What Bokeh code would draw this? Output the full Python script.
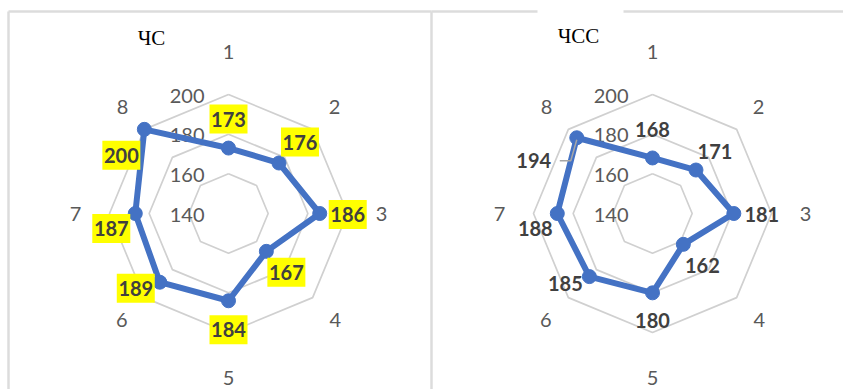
import math
from bokeh.plotting import figure
from bokeh.models import Range1d
from bokeh.core.properties import value
from bokeh.embed import file_html
from bokeh.resources import INLINE

# ---------------- data ----------------
categories = ["1", "2", "3", "4", "5", "6", "7", "8"]
chs_values = [173, 176, 186, 167, 184, 189, 187, 200]
chss_values = [168, 171, 181, 162, 180, 185, 188, 194]
tick_values = [140, 160, 180, 200]
titles = ["ЧС", "ЧСС"]

# ---------------- layout / style ----------------
W, H = 843, 389
RADIUS = 119
VMIN, VMAX = 140, 200
BLUE = "#4472C4"
GRID = "#D0D0D0"
TXT = "#595959"
LBL = "#404040"
FONT = "Lato"

# label offsets (px) relative to each point
chs_dx = [0, 21, 28, 20, 0, -24, -24, -23]
chs_dy = [-29, -21, 1, 21, 29, 6, 15, 26]
chss_dx = [0, 19, 28, 19, 0, -24, -22, -43]
chss_dy = [-28, -19, 1, 21, 28, 7, 15, 23]
cat_r = [162, 150, 153, 151, 164, 151, 153, 150]

p = figure(width=W, height=H, x_range=Range1d(0, W), y_range=Range1d(H, 0),
           x_axis_type=None, y_axis_type=None, toolbar_location=None,
           output_backend="svg", min_border=0, outline_line_color=None,
           background_fill_color="white", border_fill_color="white")

# chart borders
BORDER = "#DCDCDC"
p.segment(x0=[8, 8, 431, 431], y0=[11, 11, 11, 11], x1=[8, 431, 431, W + 5], y1=[H + 5, 11, H + 5, 11],
          line_color=BORDER, line_width=2.5)
# white box behind the right chart title (breaks the top border)
p.quad(left=[537], right=[623], top=[8], bottom=[30], fill_color="white", line_color=None)


def r_of(v):
    return (v - VMIN) / (VMAX - VMIN) * RADIUS


def pt(cx, cy, k, r):
    th = math.radians(45 * k)
    return cx + r * math.sin(th), cy - r * math.cos(th)


def radar(cx, cy, vals, dx, dy, highlight, leader_idx=None):
    n = len(categories)
    # rings
    for t in tick_values[1:]:
        xs, ys = [], []
        for k in range(n + 1):
            x, y = pt(cx, cy, k % n, r_of(t))
            xs.append(x)
            ys.append(y)
        p.line(xs, ys, line_color=GRID, line_width=1.7)
    # tick labels
    p.text(x=[cx - 24] * len(tick_values), y=[cy - r_of(t) + 1 for t in tick_values],
           text=[str(t) for t in tick_values], text_align="right", text_baseline="middle",
           text_font=value(FONT), text_font_size="20px", text_color=TXT)
    # category labels
    cxs, cys = [], []
    for k in range(n):
        x, y = pt(cx, cy, k, cat_r[k])
        cxs.append(x)
        cys.append(y)
    p.text(x=cxs, y=cys, text=categories, text_align="center", text_baseline="middle",
           text_font=value(FONT), text_font_size="20px", text_color=TXT)
    # series
    px, py = [], []
    for k, v in enumerate(vals):
        x, y = pt(cx, cy, k, r_of(v))
        px.append(x)
        py.append(y)
    p.line(px + [px[0]], py + [py[0]], line_color=BLUE, line_width=6, line_join="round")
    p.scatter(px, py, size=14, marker="circle", fill_color=BLUE, line_color=BLUE)
    # data labels
    lx = [px[k] + dx[k] for k in range(n)]
    ly = [py[k] + dy[k] for k in range(n)]
    if leader_idx is not None:
        k = leader_idx
        p.line([lx[k] + 26, lx[k] + 37, px[k]], [ly[k], ly[k], py[k] + 2],
               line_color="#A6A6A6", line_width=1.5)
    if highlight:
        p.rect(x=lx, y=ly, width=38, height=29, width_units="screen", height_units="screen",
               fill_color="#FFFF00", line_color=None)
    p.text(x=lx, y=ly, text=[str(v) for v in vals], text_align="center", text_baseline="middle",
           text_font=value(FONT), text_font_size="20px", text_font_style="bold", text_color=LBL)


radar(228, 213, chs_values, chs_dx, chs_dy, True)
radar(652, 213, chss_values, chss_dx, chss_dy, False, leader_idx=7)

p.text(x=[151, 578], y=[37, 35], text=titles, text_align="center", text_baseline="middle",
       text_font=value("Liberation Serif"), text_font_size="21px", text_color="black")

open("out.html", "w").write(file_html(p, INLINE))
